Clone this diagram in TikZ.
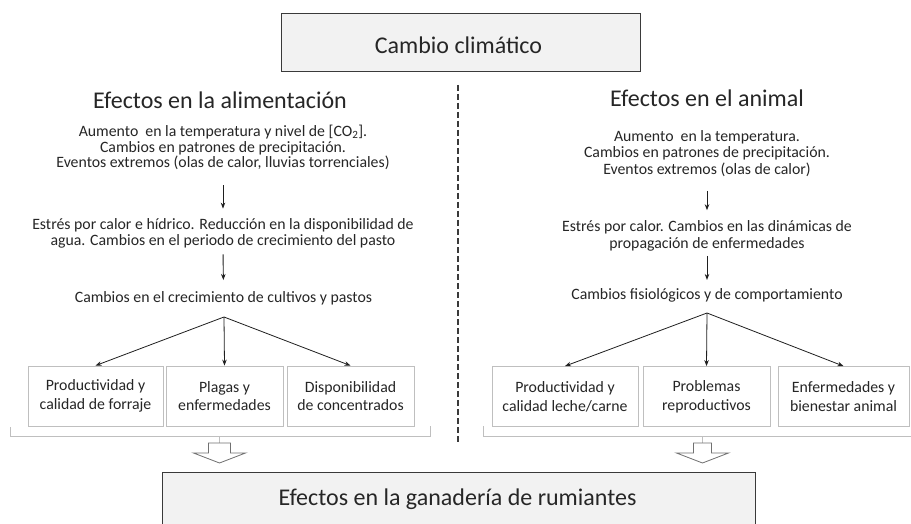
\documentclass[tikz,border=0pt]{standalone}
\usepackage{fontspec}
\setmainfont{Carlito}
\usetikzlibrary{arrows.meta}
\definecolor{txt}{HTML}{262626}
\definecolor{boxfill}{HTML}{F2F2F2}
\definecolor{boxborder}{HTML}{3A3A3A}
\definecolor{lightborder}{HTML}{BFBFBF}
\definecolor{arrowc}{HTML}{1F1F1F}
\definecolor{hollowc}{HTML}{707070}
\begin{document}
\begin{tikzpicture}[x=1pt,y=-1pt,
  every node/.style={text=txt},
  bigbox/.style={draw=boxborder, fill=boxfill, line width=1pt, inner sep=0pt},
  heading/.style={font=\fontsize{24}{28}\selectfont, inner sep=0pt},
  txtblock/.style={align=center, inner sep=0pt, font=\fontsize{15.8}{15.7}\selectfont},
  smallbox/.style={draw=lightborder, line width=0.8pt, align=center, inner sep=0pt,
    minimum height=60, font=\fontsize{15.8}{18.7}\selectfont},
  arr/.style={-{Stealth[length=6pt,width=4.5pt]}, line width=0.9pt, draw=arrowc},
  fan/.style={-{Stealth[length=6pt,width=4.5pt]}, line width=0.8pt, draw=arrowc},
  bracketline/.style={draw=lightborder, line width=0.8pt},
  hollow/.style={draw=hollowc, line width=0.8pt, fill=white, line join=miter},
  dashline/.style={draw=boxborder, line width=1.8pt, dash pattern=on 6pt off 3pt}]
\useasboundingbox (0,0) rectangle (911,524);
\fill[white] (0,0) rectangle (911,524);

% top and bottom boxes
\node[bigbox, minimum width=359, minimum height=58] (top) at (460.5,43) {};
\node[heading] (toplabel) at (458.5,45) {Cambio climático};
\node[bigbox, minimum width=593, minimum height=80, anchor=north] (bottom) at (458.5,472) {};
\node[heading] (bottomlabel) at (457.5,499) {Efectos en la ganadería de rumiantes};

% divider
\draw[dashline] (458,85) -- (458,442);

% left column
\node[heading] (lh) at (220,100) {Efectos en la alimentación};
\node[txtblock] (l1) at (223,147.5) {Aumento\ \ en la temperatura y nivel de [CO\textsubscript{2}].\\Cambios en patrones de precipitación.\\Eventos extremos (olas de calor, lluvias torrenciales)};
\node[txtblock] (l2) at (223,233.5) {Estrés por calor e hídrico. Reducción en la disponibilidad de\\agua. Cambios en el periodo de crecimiento del pasto};
\node[txtblock] (l3) at (223.5,298) {Cambios en el crecimiento de cultivos y pastos};
\node[smallbox, minimum width=135] (lb1) at (95.5,396) {Productividad y\\calidad de forraje};
\node[smallbox, minimum width=117] (lb2) at (224.5,396) {Plagas y\\enfermedades};
\node[smallbox, minimum width=127] (lb3) at (350.5,396) {Disponibilidad\\de concentrados};
\draw[arr, shorten <=15pt, shorten >=10pt] (l1.south) -- (l2.north);
\draw[arr, shorten <=6pt, shorten >=11pt] (l2.south) -- (l3.north);
\coordinate (lfan) at (224,317);
\draw[fan] (lfan) -- (lb1.north);
\draw[fan] (lfan) -- (lb2.north);
\draw[fan] (lfan) -- (lb3.north);
\draw[bracketline] (10,427) -- (10,436) -- (430,436) -- (430,426);
\draw[bracketline] (219.5,436) -- (219.5,443);
\draw[hollow] (208.5,443) -- (230.5,443) -- (230.5,453) -- (245.5,453) -- (219.5,463) -- (193.5,453) -- (208.5,453) -- cycle;

% right column
\node[heading] (rh) at (707,98) {Efectos en el animal};
\node[txtblock, font=\fontsize{15.8}{16.7}\selectfont] (r1) at (707,153.5) {Aumento\ \ en la temperatura.\\Cambios en patrones de precipitación.\\Eventos extremos (olas de calor)};
\node[txtblock, font=\fontsize{15.8}{17.5}\selectfont] (r2) at (707,236) {Estrés por calor. Cambios en las dinámicas de\\propagación de enfermedades};
\node[txtblock] (r3) at (707,295) {Cambios fisiológicos y de comportamiento};
\node[smallbox, minimum width=146] (rb1) at (565,396.5) {Productividad y\\calidad leche/carne};
\node[smallbox, minimum width=127] (rb2) at (706.5,396.5) {Problemas\\reproductivos};
\node[smallbox, minimum width=131] (rb3) at (843.5,396.5) {Enfermedades y\\bienestar animal};
\draw[arr, shorten <=14pt, shorten >=10pt] (r1.south) -- (r2.north);
\draw[arr, shorten <=4pt, shorten >=8pt] (r2.south) -- (r3.north);
\coordinate (rfan) at (707,313);
\draw[fan] (rfan) -- (rb1.north);
\draw[fan] (rfan) -- (rb2.north);
\draw[fan] (rfan) -- (rb3.north);
\draw[bracketline] (483,426) -- (483,436) -- (915,436);
\draw[bracketline] (702,436) -- (702,443);
\draw[hollow] (693.5,443) -- (711.5,443) -- (711.5,453) -- (728.5,453) -- (702.5,463) -- (676.5,453) -- (693.5,453) -- cycle;
\end{tikzpicture}
\end{document}
